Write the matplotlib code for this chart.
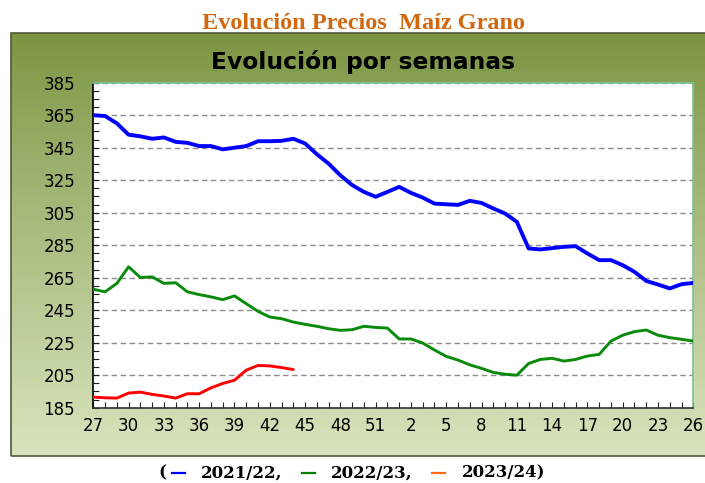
import numpy as np
import matplotlib
matplotlib.use("Agg")
import matplotlib.pyplot as plt
from matplotlib.ticker import MultipleLocator, FixedLocator
from matplotlib.patches import Rectangle
from matplotlib.lines import Line2D
from matplotlib.offsetbox import TextArea, DrawingArea, HPacker, AnchoredOffsetbox

# ----------------------------
# Datos (semanas 27..52 y 1..26)
# ----------------------------
weeks = list(range(27, 53)) + list(range(1, 27))

precio_2122 = [365, 364.5, 360, 353, 352, 350.5, 351.3, 348.6, 348, 346,
               346, 344, 345, 346, 349, 349, 349.2, 350.5, 347.6, 341,
               335.2, 328, 322, 317.8, 314.8, 317.8, 320.9, 317.2, 314.3, 310.6,
               310.2, 309.8, 312.3, 311, 307.6, 304.5, 299.4, 283, 282.4, 283.2,
               284, 284.4, 279.9, 275.8, 275.8, 272.7, 268.6, 263, 260.8, 258.4,
               261, 261.8]

precio_2223 = [257.9, 256.3, 261.5, 271.7, 265.1, 265.5, 261.5, 261.9, 256.3, 254.6,
               253.2, 251.5, 253.8, 249, 244.3, 240.8, 239.8, 237.7, 236.3, 235.1,
               233.6, 232.6, 233, 235.1, 234.4, 234, 227.3, 227.3, 224.8, 220.5,
               216.6, 214.3, 211.4, 209.2, 206.7, 205.6, 205, 212.2, 214.7, 215.4,
               213.7, 214.7, 216.8, 217.8, 226, 229.6, 231.8, 232.8, 229.6, 228.1,
               227.1, 226]

precio_2324 = [191.5, 191.1, 190.9, 194, 194.6, 193.2, 192.2, 190.9, 193.6, 193.6,
               197.2, 199.9, 201.9, 208.1, 211, 210.7, 209.7, 208.5]

campanas = ["2021/22,", "2022/23,", "2023/24)"]
colores_leyenda = ["#0000FF", "#008000", "#FF6A13"]

# ----------------------------
# Figura
# ----------------------------
W, H = 705, 483
fig = plt.figure(figsize=(W / 100, H / 100), dpi=100)
fig.patch.set_facecolor("white")

def fx(px):
    return px / W

def fy(py):
    return (H - py) / H

# Fondo verde con degradado
box_l, box_t, box_b = 10.5, 33.3, 456
bg = fig.add_axes([fx(box_l), fy(box_b), 1 - fx(box_l) + 0.01, fy(box_t) - fy(box_b)])
top_c = np.array([122, 148, 64]) / 255
bot_c = np.array([216, 228, 189]) / 255
t = np.linspace(0, 1, 256)[:, None] ** 0.9
grad = (top_c[None, :] * (1 - t) + bot_c[None, :] * t)[:, None, :]
bg.imshow(grad, aspect="auto", extent=(0, 1, 0, 1))
bg.set_axis_off()
fig.patches.append(Rectangle((fx(box_l), fy(box_b)), 1.05, fy(box_t) - fy(box_b),
                             transform=fig.transFigure, fill=False,
                             edgecolor="#4E5A3A", lw=1.2, zorder=5))

# Ejes principales
ax_l, ax_r, ax_t, ax_b = 93.3, 693.3, 82.7, 407.7
ax = fig.add_axes([fx(ax_l), fy(ax_b), fx(ax_r) - fx(ax_l), fy(ax_t) - fy(ax_b)])
ax.set_facecolor("white")

x = np.arange(len(weeks))
ax.plot(x, precio_2122, color="#0000FF", lw=2.8, solid_joinstyle="round",
        solid_capstyle="round", zorder=4)
ax.plot(x, precio_2223, color="#0A8A0A", lw=2.1, solid_joinstyle="round",
        solid_capstyle="round", zorder=4)
ax.plot(np.arange(len(precio_2324)), precio_2324, color="#FF0000", lw=2.1,
        solid_joinstyle="round", solid_capstyle="round", zorder=4)

ax.set_xlim(0, len(weeks) - 1)
ax.set_ylim(185, 385)

ax.yaxis.set_major_locator(FixedLocator(range(185, 386, 20)))
ax.yaxis.set_minor_locator(MultipleLocator(5))
ax.xaxis.set_major_locator(FixedLocator(x[::3]))
ax.xaxis.set_minor_locator(FixedLocator(x))
ax.set_xticklabels([str(w) for w in weeks[::3]])

ax.grid(True, axis="y", which="major", linestyle=(0, (4, 2.5)), color="#8C8C8C", lw=1.0)
ax.set_axisbelow(True)

ax.tick_params(axis="both", which="both", direction="in", length=4, width=0.8,
               color="#222222", labelsize=12, labelcolor="black")
ax.tick_params(axis="y", which="major", pad=13)
ax.tick_params(axis="x", which="major", pad=7)

ax.spines["left"].set_color("black")
ax.spines["bottom"].set_color("#333333")
ax.spines["top"].set_color("#7CC29E")
ax.spines["right"].set_color("#7CC29E")
for s in ax.spines.values():
    s.set_linewidth(1.2)

# ----------------------------
# Títulos
# ----------------------------
fig.text(0.516, fy(29.3), "Evolución Precios  Maíz Grano", ha="center", va="baseline",
         fontsize=17.5, fontweight="bold", family="Liberation Serif", color="#D06810")
fig.text(0.5156, fy(69), "Evolución por semanas", ha="center", va="baseline",
         fontsize=16.8, fontweight="bold", family="DejaVu Sans", color="black")

# ----------------------------
# Leyenda inferior
# ----------------------------
tp = dict(fontsize=12, fontweight="bold", family="DejaVu Serif", color="black")

def dash(color):
    da = DrawingArea(9, 10, 0, 0)
    da.add_artist(Line2D([0, 9], [5, 5], color=color, lw=1.6))
    return da

def gap(w):
    return DrawingArea(w, 1, 0, 0)

items = [TextArea("(", textprops=tp), gap(4.5)]
for i, (lab, col) in enumerate(zip(campanas, colores_leyenda)):
    items += [dash(col), gap(12), TextArea(lab, textprops=tp)]
    if i < len(campanas) - 1:
        items.append(gap(14))
pack = HPacker(children=items, sep=0, pad=0, align="center")
anch = AnchoredOffsetbox(loc="center", child=pack, frameon=False, pad=0, borderpad=0,
                         bbox_to_anchor=(fx(351.5), fy(473)), bbox_transform=fig.transFigure)
fig.add_artist(anch)

fig.savefig("out.png", dpi=100)
